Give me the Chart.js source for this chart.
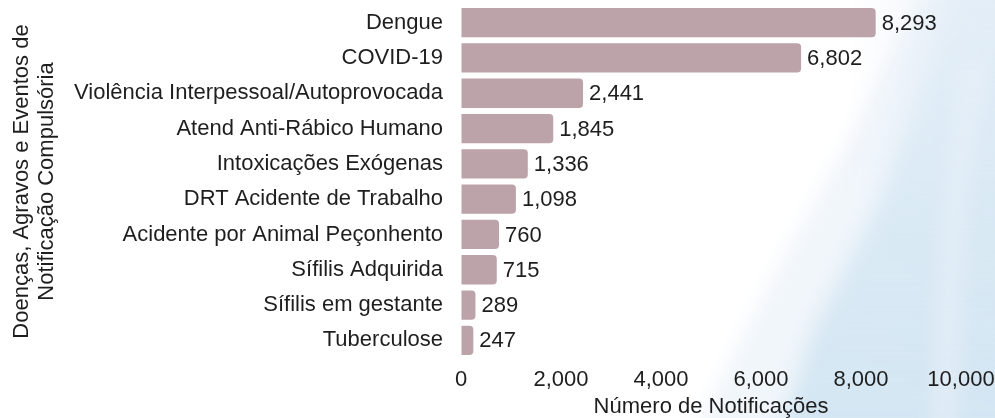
<!DOCTYPE html>
<html>
<head>
<meta charset="utf-8">
<script src="https://cdn.jsdelivr.net/npm/chart.js@4.4.1/dist/chart.umd.min.js"></script>
<style>
html,body{margin:0;padding:0;background:#fff;}
#wrap{width:995px;height:418px;position:relative;}
</style>
</head>
<body>
<div id="wrap"><canvas id="c" width="995" height="418"></canvas></div>
<script>
const categories = ["Dengue","COVID-19","Violência Interpessoal/Autoprovocada","Atend Anti-Rábico Humano","Intoxicações Exógenas","DRT Acidente de Trabalho","Acidente por Animal Peçonhento","Sífilis Adquirida","Sífilis em gestante","Tuberculose"];
const notificacoes = [8293,6802,2441,1845,1336,1098,760,715,289,247];
const xTickValues = [0,2000,4000,6000,8000,10000];
const xTitle = "Número de Notificações";
const yTitle = ["Doenças, Agravos e Eventos de","Notificação Compulsória"];

const FONT = "'Liberation Sans', Arial, sans-serif";
const TXT = "#1e1e1e";

const bgPlugin = {
  id: 'bg',
  beforeDraw(chart){
    const ctx = chart.ctx, w = chart.width, h = chart.height;
    ctx.save();
    ctx.fillStyle = '#ffffff';
    ctx.fillRect(0,0,w,h);
    ctx.filter = 'blur(10px)';
    // soft very light tint towards the right edge
    let g0 = ctx.createLinearGradient(850, 0, 995, 0);
    g0.addColorStop(0, 'rgba(232,240,248,0)');
    g0.addColorStop(1, 'rgba(232,240,248,0.85)');
    ctx.fillStyle = g0;
    ctx.fillRect(850,-20,170,460);
    // faint band left of the main region
    ctx.fillStyle = 'rgba(228,238,247,0.5)';
    ctx.beginPath();
    ctx.moveTo(690, 440); ctx.lineTo(760, 300); ctx.lineTo(860, 120); ctx.lineTo(930, -20);
    ctx.lineTo(1020, -20); ctx.lineTo(1020, 440); ctx.closePath(); ctx.fill();
    // main light blue region lower-right
    let g = ctx.createLinearGradient(0, 0, 0, 418);
    g.addColorStop(0, 'rgba(216,232,244,0.3)');
    g.addColorStop(0.5, 'rgba(213,231,243,0.8)');
    g.addColorStop(1, 'rgba(210,229,242,0.95)');
    ctx.fillStyle = g;
    ctx.beginPath();
    ctx.moveTo(778, 440); ctx.lineTo(812, 330); ctx.lineTo(880, 200);
    ctx.lineTo(915, 100); ctx.lineTo(950, -20);
    ctx.lineTo(1020, -20); ctx.lineTo(1020, 440); ctx.closePath(); ctx.fill();
    // lighter streak near the right
    ctx.fillStyle = 'rgba(236,243,249,0.55)';
    ctx.beginPath();
    ctx.moveTo(930, 440); ctx.lineTo(945, 200); ctx.lineTo(965, 60);
    ctx.lineTo(985, 60); ctx.lineTo(965, 200); ctx.lineTo(955, 440); ctx.closePath(); ctx.fill();
    ctx.filter = 'none';
    ctx.restore();
  }
};

const valueLabels = {
  id: 'valueLabels',
  afterDatasetsDraw(chart){
    const ctx = chart.ctx;
    const meta = chart.getDatasetMeta(0);
    ctx.save();
    ctx.font = "22px " + FONT;
    ctx.fillStyle = TXT;
    ctx.textAlign = 'left';
    ctx.textBaseline = 'middle';
    meta.data.forEach((bar, i) => {
      const v = chart.data.datasets[0].data[i];
      ctx.fillText(v.toLocaleString('en-US'), bar.x + 6, bar.y + 1);
    });
    ctx.restore();
  }
};

new Chart(document.getElementById('c'), {
  type: 'bar',
  data: {
    labels: categories,
    datasets: [{
      data: notificacoes,
      backgroundColor: '#bca3a9',
      borderRadius: {topRight: 4, bottomRight: 4, topLeft: 0, bottomLeft: 0},
      borderSkipped: false,
      barPercentage: 0.83,
      categoryPercentage: 1.0
    }]
  },
  options: {
    indexAxis: 'y',
    responsive: false,
    animation: false,
    devicePixelRatio: 1,
    layout: {padding: {top: 5, right: 34, bottom: 0, left: 9}},
    plugins: {legend: {display: false}, tooltip: {enabled: false}},
    scales: {
      x: {
        min: 0, max: 10000,
        afterBuildTicks: s => { s.ticks = xTickValues.map(v => ({value: v})); },
        ticks: {color: TXT, font: {size: 22, family: FONT}, padding: 0,
          callback: v => v.toLocaleString('en-US')},
        grid: {display: true, drawOnChartArea: false, drawTicks: true, tickLength: 9, color: 'rgba(0,0,0,0)'},
        border: {display: false},
        title: {display: true, text: xTitle, color: TXT, font: {size: 22, family: FONT}, padding: {top: 2, bottom: -2}},
        afterFit: s => { s.height = 60; }
      },
      y: {
        ticks: {color: TXT, font: {size: 22, family: FONT}, padding: 0},
        grid: {display: true, drawOnChartArea: false, drawTicks: true, tickLength: 18, color: 'rgba(0,0,0,0)'},
        border: {display: false},
        title: {display: true, text: yTitle, color: TXT, font: {size: 22, family: FONT, lineHeight: 1.15}, padding: {top: 0, bottom: 0}},
        afterFit: s => { s.width = 452; s.paddingTop = 0; s.paddingBottom = 0; }
      }
    }
  },
  plugins: [bgPlugin, valueLabels]
});
</script>
</body>
</html>
